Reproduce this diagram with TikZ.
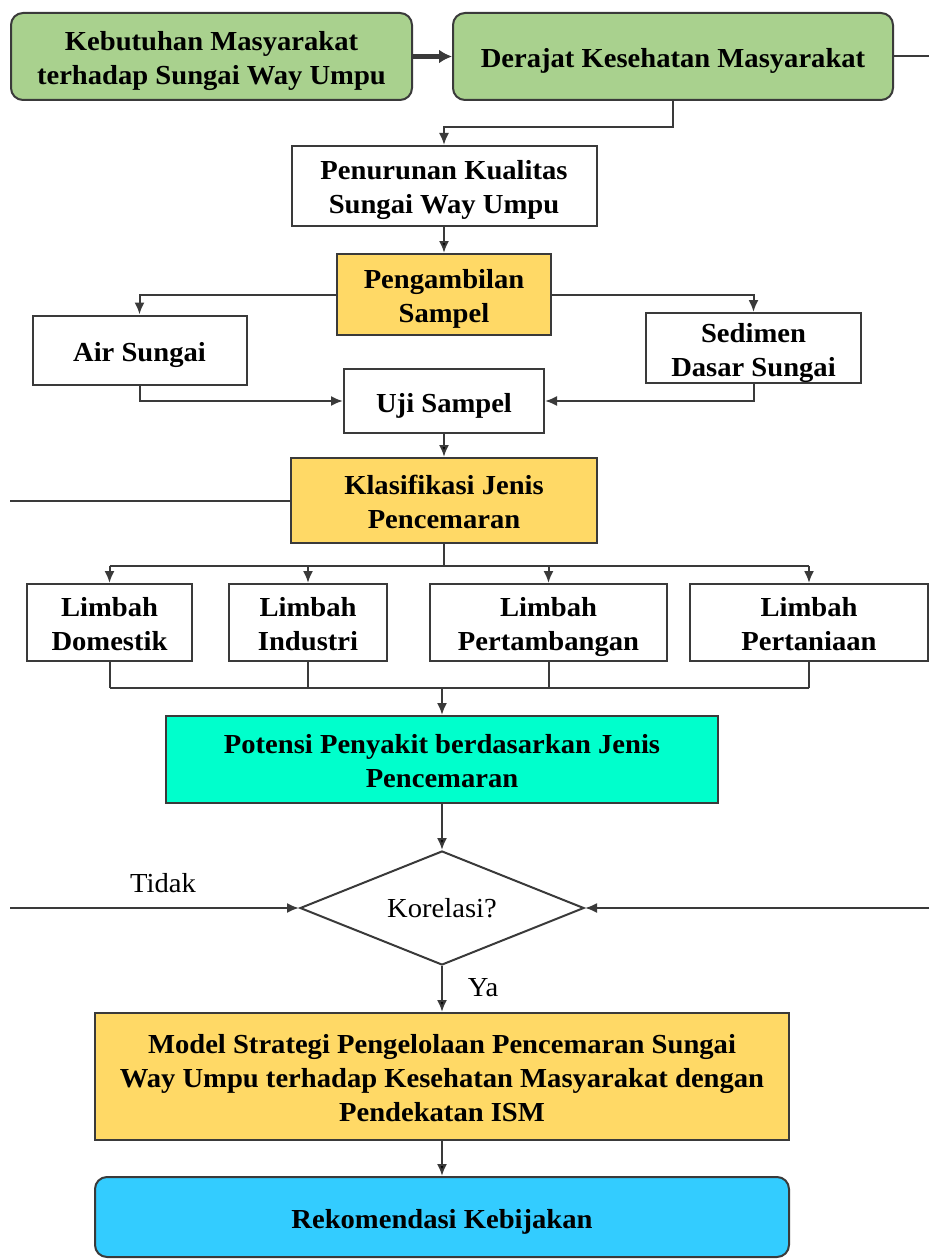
\documentclass[tikz,border=0pt]{standalone}
\usepackage{fontspec}
\setmainfont[FakeStretch=1.04]{Liberation Serif}
\usetikzlibrary{arrows.meta,shapes.geometric,positioning}

\definecolor{hijau}{HTML}{A9D18E}
\definecolor{kuning}{HTML}{FFD966}
\definecolor{toska}{HTML}{00FFCC}
\definecolor{biru}{HTML}{33CCFF}
\definecolor{garis}{HTML}{3A3A3A}

\begin{document}
\begin{tikzpicture}[x=1pt,y=-1pt,>={Latex[length=12pt,width=10pt]},line width=2pt,
	kotak/.style={rectangle, draw=garis, line width=2pt, align=center, inner sep=0pt, font=\bfseries\fontsize{27.5}{34}\selectfont,
		text height=28pt, text depth=6pt},
	duabaris/.style={text height=62pt},
	tigabaris/.style={text height=96pt},
	bulat/.style={kotak, rounded corners=12pt},
	keputusan/.style={diamond, draw=garis, line width=2pt, aspect=2.5, inner sep=0pt, minimum width=284, minimum height=114, font=\fontsize{27.5}{34}\selectfont},
	alur/.style={draw=garis, ->},
	teks/.style={font=\fontsize{27.5}{34}\selectfont}]
				\useasboundingbox (0,0) rectangle (929,1260);

				\node[bulat, duabaris, fill=hijau, minimum width=401, minimum height=87] (kebutuhan) at (211.5,56.5) {Kebutuhan Masyarakat\\terhadap Sungai Way Umpu};
				\node[bulat, fill=hijau, minimum width=440, minimum height=87] (derajat) at (673,56.5) {Derajat Kesehatan Masyarakat};
				\node[kotak, duabaris, minimum width=305, minimum height=80] (penurunan) at (444,186) {Penurunan Kualitas\\Sungai Way Umpu};
				\node[kotak, duabaris, fill=kuning, minimum width=214, minimum height=81] (sampel) at (444,294.5) {Pengambilan\\Sampel};
				\node[kotak, minimum width=214, minimum height=69] (air) at (139.5,350) {Air Sungai};
				\node[kotak, duabaris, minimum width=215, minimum height=70] (sedimen) at (753.5,348) {Sedimen\\Dasar Sungai};
				\node[kotak, minimum width=200, minimum height=64] (uji) at (444,401) {Uji Sampel};
				\node[kotak, duabaris, fill=kuning, minimum width=306, minimum height=85] (klasifikasi) at (444,500.5) {Klasifikasi Jenis\\Pencemaran};

				\node[kotak, duabaris, minimum width=165, minimum height=77] (domestik) at (109.5,622.5) {Limbah\\Domestik};
				\node[kotak, duabaris, minimum width=158, minimum height=77] (industri) at (308,622.5) {Limbah\\Industri};
				\node[kotak, duabaris, minimum width=237, minimum height=77] (pertambangan) at (548.5,622.5) {Limbah\\Pertambangan};
				\node[kotak, duabaris, minimum width=238, minimum height=77] (pertaniaan) at (809,622.5) {Limbah\\Pertaniaan};

				\node[kotak, duabaris, fill=toska, minimum width=552, minimum height=87] (potensi) at (442,759.5) {Potensi Penyakit berdasarkan Jenis\\Pencemaran};
				\node[keputusan] (korelasi) at (442,908) {Korelasi?};
				\node[kotak, tigabaris, fill=kuning, minimum width=694, minimum height=127] (model) at (442,1076.5) {Model Strategi Pengelolaan Pencemaran Sungai\\Way Umpu terhadap Kesehatan Masyarakat dengan\\Pendekatan ISM};
				\node[bulat, fill=biru, minimum width=694, minimum height=80] (rekomendasi) at (442,1217) {Rekomendasi Kebijakan};

				\node[teks] (tidak) at (163,883) {Tidak};
				\node[teks] (ya) at (483,988) {Ya};

				\coordinate (kanan1) at (929,56.5);
				\coordinate (kiri1) at (10,500.5);
				\coordinate (kiri2) at (10,908);
				\coordinate (kanan2) at (929,908);
				\coordinate (cabang) at (444,566);
				\coordinate (gabung) at (442,688);

				\draw[garis, line width=5pt, -{Latex[length=13pt,width=14pt]}] (kebutuhan) -- (derajat);
				\draw[garis] (derajat) -- (kanan1);
				\draw[alur] (derajat.south) -- ++(0,26) -| (penurunan.north);
				\path[alur] (penurunan) edge (sampel)
						  (uji)	edge (klasifikasi)
						  (potensi) edge (korelasi)
						  (korelasi) edge (model)
						  (model) edge (rekomendasi);
				\draw[alur] (sampel.west) -| (air.north);
				\draw[alur] (sampel.east) -| (sedimen.north);
				\draw[alur] (air.south) |- (uji.west);
				\draw[alur] (sedimen.south) |- (uji.east);
				\draw[garis] (klasifikasi.west) -- (kiri1);

				\draw[garis] (klasifikasi.south) -- (cabang);
				\draw[garis] (domestik.north |- cabang) -- (pertaniaan.north |- cabang);
				\draw[garis] (domestik.south |- gabung) -- (pertaniaan.south |- gabung);
				\foreach \n in {domestik,industri,pertambangan,pertaniaan} {
					\draw[alur] (\n.north |- cabang) -- (\n.north);
					\draw[garis] (\n.south) -- (\n.south |- gabung);
				}
				\draw[alur] (gabung) -- (potensi.north);

				\draw[alur] (kiri2) -- (korelasi.west);
				\draw[alur] (kanan2) -- (korelasi.east);

			\end{tikzpicture}
\end{document}
